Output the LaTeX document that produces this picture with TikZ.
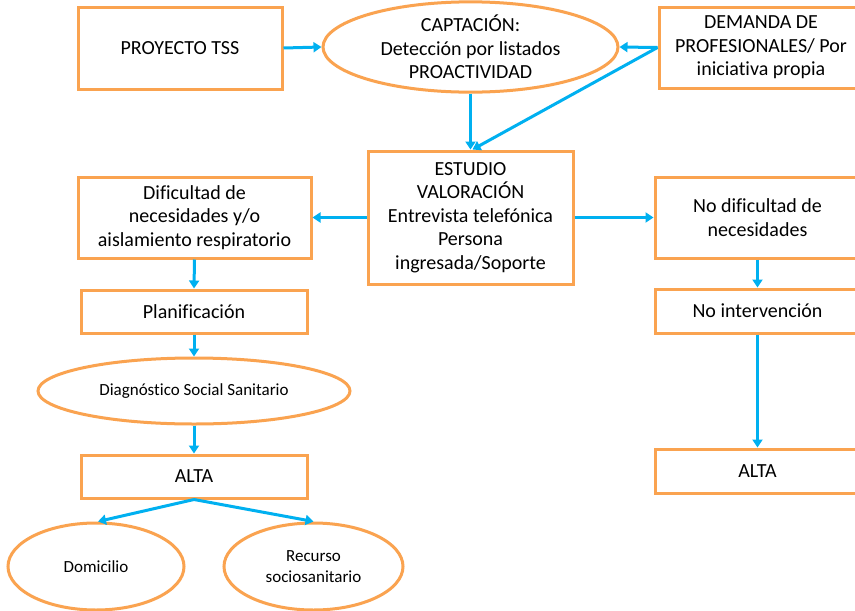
\documentclass[tikz,border=0pt]{standalone}
\usepackage{fontspec}
\setmainfont{Carlito}[Ligatures=NoCommon]
\usetikzlibrary{shapes.geometric,arrows.meta}
\definecolor{boxorange}{RGB}{250,163,80}
\definecolor{flowblue}{RGB}{0,176,240}
\begin{document}
\begin{tikzpicture}[x=1pt,y=-1pt,
  box/.style={draw=boxorange,line width=3pt,fill=white,inner sep=0pt,align=center,
    font=\fontsize{20}{23.5}\selectfont},
  oval/.style={draw=boxorange,line width=3pt,fill=white,ellipse,inner sep=0pt,align=center,
    font=\fontsize{20}{23.5}\selectfont},
  smalloval/.style={oval,font=\fontsize{17}{21}\selectfont},
  flow/.style={draw=flowblue,line width=3pt,-{Triangle[length=8pt,width=10pt]}}]
\useasboundingbox (0,0) rectangle (855,611);
\clip (0,0) rectangle (855,611);
\fill[white] (0,0) rectangle (855,611);

% top row
\node[box,minimum width=204pt,minimum height=82pt] (proy) at (180,48) {PROYECTO TSS};
\node[oval,minimum width=295pt,minimum height=76pt] (capt) at (470.5,47)
  {CAPTACIÓN:\\Detección por listados\\PROACTIVIDAD};
\node[box,minimum width=204pt,minimum height=81pt] (dem) at (761,47.5)
  {DEMANDA DE\\PROFESIONALES/ Por\\iniciativa propia};

% study
\node[box,minimum width=205pt,minimum height=133pt] (est) at (470.5,217.5)
  {ESTUDIO\\VALORACIÓN\\Entrevista telefónica\\Persona\\ingresada/Soporte};

% left branch
\node[box,minimum width=233pt,minimum height=81pt] (dif) at (194.5,217.5)
  {Dificultad de\\necesidades y/o\\aislamiento respiratorio};
\node[box,minimum width=226pt,minimum height=43pt] (plan) at (194,311.5) {Planificación};
\node[smalloval,minimum width=312pt,minimum height=66pt] (diag) at (194,391)
  {Diagnóstico Social Sanitario};
\node[box,minimum width=226pt,minimum height=43pt] (altaL) at (194,476.5) {ALTA};
\node[smalloval,minimum width=176pt,minimum height=87pt] (dom) at (96,566.5) {Domicilio};
\node[smalloval,minimum width=179pt,minimum height=87pt] (rec) at (313.5,566.5)
  {Recurso\\sociosanitario};

% right branch
\node[box,minimum width=205pt,minimum height=81pt] (nodif) at (757.5,217.5)
  {No dificultad de\\necesidades};
\node[box,minimum width=205pt,minimum height=44pt] (noint) at (757.5,311) {No intervención};
\node[box,minimum width=205pt,minimum height=44pt] (altaR) at (757.5,471) {ALTA};

% connectors
\draw[flow] (proy.east) -- (capt.west);
\draw[flow] (dem.west) -- (capt.east);
\draw[flow] (dem.west) -- ([xshift=2pt]est.north);
\draw[flow] (capt.south) -- (est.north);
\draw[flow] (est.west) -- (dif.east);
\draw[flow] (est.east) -- (nodif.west);
\draw[flow] (dif.south) -- (plan.north);
\draw[flow] (plan.south) -- (diag.north);
\draw[flow] (diag.south) -- (altaL.north);
\draw[flow] (altaL.south) -- ([xshift=2pt]dom.north);
\draw[flow] (altaL.south) -- (rec.north);
\draw[flow] (nodif.south) -- (noint.north);
\draw[flow] (noint.south) -- (altaR.north);
\end{tikzpicture}
\end{document}
